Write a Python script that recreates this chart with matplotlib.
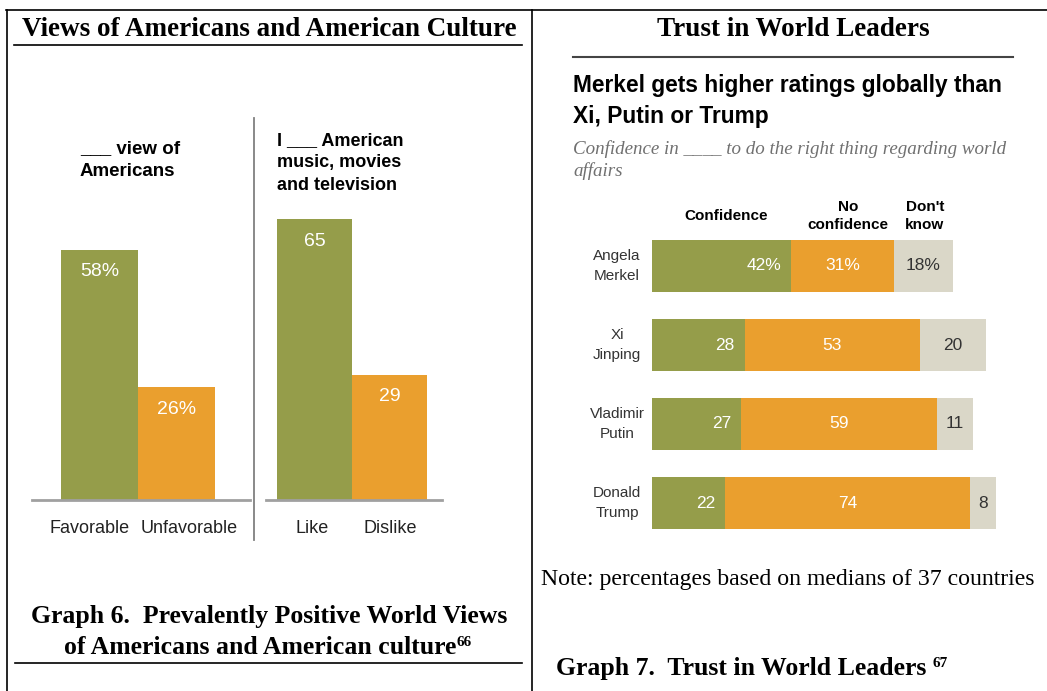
import matplotlib
matplotlib.use("Agg")
import matplotlib.pyplot as plt
from matplotlib.lines import Line2D
from matplotlib.text import Annotation
from matplotlib.transforms import ScaledTranslation

# ---------------- data ----------------
views_cats = ["Favorable", "Unfavorable"]
views_vals = [58, 26]
views_labels = ["58%", "26%"]

culture_cats = ["Like", "Dislike"]
culture_vals = [65, 29]
culture_labels = ["65", "29"]

leaders = ["Angela\nMerkel", "Xi\nJinping", "Vladimir\nPutin", "Donald\nTrump"]
confidence = [42, 28, 27, 22]
no_confidence = [31, 53, 59, 74]
dont_know = [18, 20, 11, 8]
first_row_pct = True

GREEN = "#959d4a"
ORANGE = "#ea9f2e"
GRAY = "#dad7c8"
W, H = 1047, 691

fig = plt.figure(figsize=(W / 100, H / 100), dpi=100)
fig.patch.set_facecolor("white")

SERIF = "Liberation Serif"
SANS = "Liberation Sans"


def fx(x):
    return x / W


def fy(y):
    return 1 - y / H


def hline(x0, x1, y, color="black", lw=1.2):
    fig.add_artist(Line2D([fx(x0), fx(x1)], [fy(y), fy(y)], color=color, lw=lw,
                          transform=fig.transFigure))


def vline(x, y0, y1, color="black", lw=1.2):
    fig.add_artist(Line2D([fx(x), fx(x)], [fy(y0), fy(y1)], color=color, lw=lw,
                          transform=fig.transFigure))


def axes_px(x0, y0, x1, y1):
    return fig.add_axes([fx(x0), fy(y1), (x1 - x0) / W, (y1 - y0) / H])


# ---------------- frame ----------------
hline(6, W, 10)
vline(6.5, 10, H)
vline(532, 10, H)
hline(14, 522, 44.5)
hline(15, 522, 663)

# ---------------- left panel titles ----------------
fig.text(fx(269), fy(30), "Views of Americans and American Culture", family=SERIF,
         weight="bold", fontsize=19.5, ha="center", va="center")
fig.text(fx(269), fy(616), "Graph 6.  Prevalently Positive World Views", family=SERIF,
         weight="bold", fontsize=18.5, ha="center", va="center")
cap2 = fig.text(fx(260), fy(647), "of Americans and American culture", family=SERIF,
                weight="bold", fontsize=18.5, ha="center", va="center")
a66 = Annotation("66", xy=(1, 0.97), xycoords=cap2, xytext=(0.5, 0), textcoords="offset points",
                 family=SERIF, weight="bold", fontsize=11, ha="left", va="top")
fig.add_artist(a66)


def style_vbar_axes(ax, cats, offsets_px):
    ax.set_xticks(range(len(cats)))
    ax.set_xticklabels(cats, fontsize=13, family=SANS, color="#222222")
    ax.tick_params(axis="x", length=0, pad=15)
    for lab, off in zip(ax.get_xticklabels(), offsets_px):
        lab.set_transform(lab.get_transform() + ScaledTranslation(off / 100, 0, fig.dpi_scale_trans))
    ax.set_yticks([])
    for s in ["top", "left", "right"]:
        ax.spines[s].set_visible(False)
    ax.spines["bottom"].set_color("#a0a0a0")
    ax.spines["bottom"].set_linewidth(2)
    ax.patch.set_alpha(0)


# ---------------- left chart: views of Americans ----------------
BASE = 499.5
PXU = 4.31  # px per percentage point
TOP = 100
ax1 = axes_px(32, TOP, 250, BASE)
u1 = 77.0
left1 = -0.5 - (61 - 32) / u1
ax1.set_xlim(left1, left1 + (250 - 32) / u1)
ax1.set_ylim(0, (BASE - TOP) / PXU)
ax1.bar(range(len(views_vals)), views_vals, width=1.0, color=[GREEN, ORANGE])
for i, (v, lab) in enumerate(zip(views_vals, views_labels)):
    ax1.text(i, v - 5.1, lab, ha="center", va="center", color="white", fontsize=14,
             family=SANS)
style_vbar_axes(ax1, views_cats, [-10, 13])

fig.text(fx(80), fy(160), "___ view of\nAmericans", family=SANS, weight="bold",
         fontsize=13.5, ha="left", va="center", linespacing=1.45)

# separator
vline(254, 118, 540, color="#808080", lw=1.3)

# ---------------- right chart: American culture ----------------
ax2 = axes_px(266, TOP, 442, BASE)
u2 = 75.0
left2 = -0.5 - (277 - 266) / u2
ax2.set_xlim(left2, left2 + (442 - 266) / u2)
ax2.set_ylim(0, (BASE - TOP) / PXU)
ax2.bar(range(len(culture_vals)), culture_vals, width=1.0, color=[GREEN, ORANGE])
for i, (v, lab) in enumerate(zip(culture_vals, culture_labels)):
    ax2.text(i, v - 5.1, lab, ha="center", va="center", color="white", fontsize=14,
             family=SANS)
style_vbar_axes(ax2, culture_cats, [-2, 1])

fig.text(fx(277), fy(163), "I ___ American\nmusic, movies\nand television", family=SANS,
         weight="bold", fontsize=13, ha="left", va="center", linespacing=1.4)

# ---------------- right panel ----------------
fig.text(fx(793), fy(30), "Trust in World Leaders", family=SERIF, weight="bold",
         fontsize=19.5, ha="center", va="center")
hline(573, 1013, 57, color="#444444", lw=1.5)
fig.text(fx(573), fy(101), "Merkel gets higher ratings globally than\nXi, Putin or Trump",
         family=SANS, weight="bold", fontsize=16.4, ha="left", va="center", linespacing=1.4)
fig.text(fx(573), fy(160), "Confidence in ____ to do the right thing regarding world\naffairs",
         family=SERIF, style="italic", fontsize=13.7, color="#707070", ha="left", va="center",
         linespacing=1.3)

PXU3 = 3.31
X0 = 652
ax3 = axes_px(X0, 226.5, 1013, 542.5)
ax3.set_xlim(0, (1013 - X0) / PXU3)
ax3.set_ylim(3.5, -0.5)
ypos = list(range(len(leaders)))
BH = 0.67
ax3.barh(ypos, confidence, height=BH, color=GREEN)
ax3.barh(ypos, no_confidence, left=confidence, height=BH, color=ORANGE)
lefts3 = [c + n for c, n in zip(confidence, no_confidence)]
ax3.barh(ypos, dont_know, left=lefts3, height=BH, color=GRAY)
for i in ypos:
    suf = "%" if (i == 0 and first_row_pct) else ""
    ax3.text(confidence[i] - 3, i, f"{confidence[i]}{suf}", ha="right", va="center",
             color="white", fontsize=12.5, family=SANS)
    ax3.text(confidence[i] + no_confidence[i] / 2, i, f"{no_confidence[i]}{suf}", ha="center",
             va="center", color="white", fontsize=12.5, family=SANS)
    ax3.text(lefts3[i] + dont_know[i] / 2, i, f"{dont_know[i]}{suf}", ha="center",
             va="center", color="#333333", fontsize=12.5, family=SANS)
    ax3.text(-(X0 - 617) / PXU3, i, leaders[i], ha="center", va="center", fontsize=11,
             family=SANS, color="#333333", linespacing=1.6, clip_on=False)
ax3.axis("off")

# column headers
fig.text(fx(726), fy(216), "Confidence", family=SANS, weight="bold", fontsize=11,
         ha="center", va="center")
fig.text(fx(848), fy(216), "No\nconfidence", family=SANS, weight="bold", fontsize=11,
         ha="center", va="center", linespacing=1.35)
fig.text(fx(925), fy(216), "Don't\nknow", family=SANS, weight="bold", fontsize=11,
         ha="center", va="center", linespacing=1.35)

fig.text(fx(541), fy(580), "Note: percentages based on medians of 37 countries", family=SERIF,
         fontsize=17.1, ha="left", va="center")
cap7 = fig.text(fx(556), fy(668), "Graph 7.  Trust in World Leaders ", family=SERIF,
                weight="bold", fontsize=18.5, ha="left", va="center")
a67 = Annotation("67", xy=(1, 0.97), xycoords=cap7, xytext=(0, 0), textcoords="offset points",
                 family=SERIF, weight="bold", fontsize=11, ha="left", va="top")
fig.add_artist(a67)

fig.savefig("out.png", dpi=100, facecolor="white")
